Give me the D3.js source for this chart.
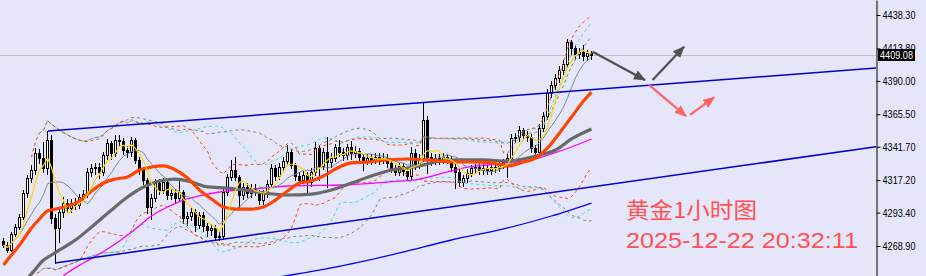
<!DOCTYPE html>
<html><head><meta charset="utf-8">
<script src="https://cdn.jsdelivr.net/npm/d3@7"></script>
<style>
html,body{margin:0;padding:0;background:#E6E6FA;overflow:hidden;}
svg{display:block;}
</style></head><body>
<svg id="chart" width="926" height="276"></svg>
<script>
// ---------------- data ----------------
const firstOpen = 4272.6;
const closes = [
4269.6,4266.0,4277.7,4282.8,4290.2,4307.8,4318.8,4324.6,4337.1,4333.4,
4326.1,4346.6,4289.4,4282.1,4293.8,4300.4,4296.8,4300.4,4299.0,4304.8,
4307.0,4323.2,4326.1,4326.8,4323.2,4335.6,4344.4,4337.1,4346.6,4345.9,
4339.3,4337.8,4346.6,4332.0,4324.6,4317.3,4297.5,4304.1,4315.1,4310.0,
4315.8,4306.3,4307.8,4304.1,4308.5,4289.4,4290.9,4293.8,4284.3,4291.6,
4283.6,4280.6,4282.1,4275.5,4276.2,4308.5,4319.5,4324.6,4319.5,4306.3,
4312.2,4307.8,4311.4,4308.5,4302.6,4307.8,4314.4,4326.1,4320.2,4326.8,
4331.2,4337.8,4328.3,4320.2,4317.3,4321.0,4315.8,4323.2,4340.8,4327.6,
4337.8,4330.5,4333.4,4341.5,4337.8,4335.6,4341.5,4337.1,4338.6,4334.2,
4331.2,4333.4,4332.0,4334.2,4332.0,4333.4,4329.8,4326.1,4323.2,4327.6,
4323.9,4320.2,4337.1,4328.3,4333.4,4361.3,4334.2,4332.0,4333.4,4332.0,
4334.2,4332.7,4326.8,4323.2,4315.8,4318.8,4322.4,4326.1,4326.8,4324.6,
4326.1,4324.6,4326.8,4326.1,4328.3,4330.5,4333.4,4348.1,4348.8,4354.0,
4350.3,4348.8,4340.8,4337.8,4355.4,4364.2,4381.1,4387.0,4392.1,4398.0,
4402.4,4418.5,4414.1,4409.7,4411.2,4408.2,4410.4,4409.08];
const highs = [
4274.7,4271.5,4279.5,4285.0,4292.0,4310.0,4321.0,4328.0,4340.8,4340.0,
4345.2,4353.2,4350.0,4292.0,4296.0,4305.0,4303.0,4303.0,4304.0,4307.0,
4310.0,4326.0,4329.0,4330.0,4330.0,4338.0,4347.0,4346.0,4350.3,4350.0,
4348.0,4342.0,4349.0,4348.0,4334.0,4327.0,4319.0,4307.0,4318.0,4318.0,
4319.0,4318.0,4311.0,4311.0,4317.3,4310.0,4294.0,4297.0,4296.0,4294.0,
4294.0,4286.0,4285.0,4284.0,4279.0,4311.0,4322.0,4331.9,4334.2,4321.0,
4315.0,4315.0,4314.0,4314.0,4310.0,4310.0,4317.0,4329.0,4328.0,4330.0,
4334.0,4343.0,4340.0,4330.0,4323.0,4324.0,4323.0,4326.0,4345.2,4343.0,
4341.0,4348.8,4337.0,4344.0,4346.6,4341.0,4344.0,4346.0,4342.0,4341.0,
4336.0,4336.0,4336.0,4337.0,4337.0,4337.1,4336.0,4332.0,4328.0,4330.0,
4330.0,4326.0,4341.5,4340.0,4336.0,4374.5,4364.0,4337.0,4336.0,4336.0,
4337.0,4336.0,4335.0,4329.0,4325.0,4321.0,4325.0,4328.0,4329.0,4329.0,
4329.0,4328.0,4329.0,4329.0,4331.0,4333.0,4336.0,4351.0,4352.0,4357.0,
4355.4,4353.0,4351.0,4343.0,4358.0,4367.0,4384.0,4390.0,4395.0,4401.0,
4405.0,4421.0,4420.0,4416.0,4414.0,4416.3,4413.0,4412.0];
const lows = [
4268.2,4264.5,4265.0,4276.0,4281.0,4289.0,4305.0,4316.0,4322.0,4330.0,
4323.0,4322.0,4286.0,4256.4,4271.8,4290.0,4293.0,4294.0,4296.0,4297.0,
4302.0,4305.0,4320.0,4322.0,4319.0,4321.0,4333.0,4333.0,4335.0,4342.0,
4336.0,4334.0,4335.0,4330.0,4322.0,4314.0,4293.0,4289.0,4302.0,4307.0,
4308.0,4303.0,4303.0,4301.0,4302.0,4286.0,4284.0,4288.0,4280.0,4282.0,
4280.0,4276.0,4277.0,4273.0,4273.3,4274.0,4306.0,4317.0,4317.0,4297.5,
4303.0,4305.0,4305.0,4306.0,4300.0,4300.0,4305.0,4312.0,4317.0,4318.0,
4324.0,4329.0,4326.0,4317.0,4314.0,4315.0,4307.8,4313.0,4321.0,4317.3,
4325.0,4312.2,4327.0,4331.0,4335.0,4332.0,4333.0,4333.0,4334.0,4331.0,
4324.6,4329.0,4329.0,4330.0,4329.0,4330.0,4327.0,4323.0,4321.0,4321.0,
4321.0,4318.0,4318.0,4325.0,4326.0,4331.0,4322.4,4328.0,4329.0,4329.0,
4330.0,4330.0,4324.0,4311.4,4313.0,4313.0,4316.0,4320.0,4323.0,4322.0,
4322.0,4322.0,4322.0,4323.0,4324.0,4326.0,4319.5,4331.0,4345.0,4346.0,
4347.0,4346.0,4338.0,4334.0,4336.0,4353.0,4362.0,4378.0,4384.0,4389.0,
4395.0,4400.0,4410.0,4406.0,4407.0,4405.3,4405.0,4406.0];

// moving averages: [bar index, price]
const maOrange = [[0,4255.0],[2,4262.3],[4,4269.6],[7,4282.1],[9,4288.7],[11,4294.6],[13,4296.0],[16,4298.2],[19,4301.9],[22,4309.2],[25,4315.1],[28,4318.0],[31,4319.5],[34,4324.6],[37,4326.8],[40,4327.6],[43,4324.6],[46,4318.8],[49,4310.0],[52,4303.4],[55,4297.5],[58,4296.0],[62,4296.0],[65,4297.5],[68,4302.6],[71,4309.2],[74,4315.1],[77,4316.6],[80,4320.2],[83,4325.4],[87,4329.8],[91,4330.5],[96,4332.0],[101,4332.7],[106,4332.0],[112,4330.5],[117,4330.5],[122,4329.8],[126,4327.6],[130,4330.5],[133,4333.4],[136,4340.8],[139,4351.8],[142,4363.5],[145,4375.2],[147,4381.8]];
const maGray = [[5,4242.5],[7,4248.4],[10,4258.6],[12,4262.3],[14,4266.0],[18,4273.3],[22,4282.8],[27,4295.3],[31,4304.8],[35,4312.2],[39,4316.6],[43,4318.0],[47,4315.8],[51,4312.2],[56,4311.4],[60,4310.0],[65,4307.8],[71,4306.3],[77,4307.0],[82,4310.0],[87,4315.1],[92,4320.2],[97,4324.6],[101,4326.1],[105,4328.3],[109,4331.2],[114,4332.0],[120,4332.0],[126,4331.2],[131,4333.4],[134,4335.6],[138,4339.3],[142,4347.4],[147,4354.7]];
const maMagenta = [[14,4244.0],[15,4246.9],[20,4256.4],[24,4263.0],[29,4272.6],[33,4281.4],[37,4290.9],[41,4297.5],[45,4302.6],[49,4305.6],[54,4308.5],[59,4310.0],[65,4311.4],[71,4312.9],[79,4313.3],[87,4314.0],[96,4315.8],[104,4318.0],[111,4323.2],[116,4326.8],[121,4328.3],[126,4329.8],[132,4332.0],[137,4336.4],[142,4341.5],[147,4347.4]];
const maBlue = [[69,4246.2],[82,4252.8],[99,4263.8],[112,4273.3],[125,4281.4],[137,4290.9],[147,4300.4]];

// trend channel anchors: [bar index, price]
const channelUpper = [[11.25,4353.2],[218.25,4399.4]];
const channelLower = [[13,4256.4],[218.25,4341.7]];

// scenario arrows: [[bar,price],[bar,price]]
const grayArrows = [[[147.4,4411.4],[160.5,4390.6]],[[162.4,4390.6],[170.25,4415.1]]];
const redArrows  = [[[161.5,4387.0],[170.75,4364.2]],[[171.75,4365.0],[177.8,4377.9]]];

const tickValues = [4438.30,4413.80,4390.00,4365.50,4341.70,4317.20,4293.40,4268.90];
const lastPrice = 4409.08;
const titleText = "黄金1小时图";
const stampText = "2025-12-22 20:32:11";

// ---------------- drawing ----------------
const W = 926, H = 276, plotRight = 876;
const opens = closes.map((c,i)=> i===0 ? firstOpen : closes[i-1]);
const x = d3.scaleLinear().domain([0,147]).range([3,591]);
const y = d3.scaleLinear().domain([4246.9,4449.3]).range([276,0]);

const svg = d3.select('#chart');
svg.append('rect').attr('width',W).attr('height',H).attr('fill','#E6E6FA');
const defs = svg.append('defs');
defs.append('clipPath').attr('id','plot').append('rect')
  .attr('x',0).attr('y',0).attr('width',plotRight).attr('height',H);
function marker(id,color){
  defs.append('marker').attr('id',id).attr('viewBox','0 0 12 10')
    .attr('refX',11).attr('refY',5).attr('markerWidth',12).attr('markerHeight',10)
    .attr('markerUnits','userSpaceOnUse').attr('orient','auto')
    .append('path').attr('d','M0,0 L12,5 L0,10 Z').attr('fill',color);
}
marker('ahGray','#505050');
marker('ahRed','#FF6464');

const g = svg.append('g').attr('clip-path','url(#plot)');

// current price line
g.append('line').attr('x1',0).attr('x2',plotRight)
  .attr('y1',Math.round(y(lastPrice))+0.5).attr('y2',Math.round(y(lastPrice))+0.5)
  .attr('stroke','#C0C0C0').attr('stroke-width',1);

// candles
const bars = closes.map((c,i)=>({i,o:opens[i],h:highs[i],l:lows[i],c}));
const cg = g.append('g');
cg.selectAll('line.wick').data(bars).join('line').attr('class','wick')
  .attr('x1',d=>Math.round(x(d.i))+0.5).attr('x2',d=>Math.round(x(d.i))+0.5)
  .attr('y1',d=>Math.round(y(d.h))).attr('y2',d=>Math.round(y(d.l))+1)
  .attr('stroke','#000').attr('stroke-width',1);
cg.selectAll('rect.body').data(bars).join('rect').attr('class','body')
  .each(function(d){
    const X = Math.round(x(d.i));
    const yo = Math.round(y(d.o)), yc = Math.round(y(d.c));
    const s = d3.select(this);
    if (d.c >= d.o) {
      s.attr('x',X-0.5).attr('width',2)
       .attr('y',yc+0.5).attr('height',Math.max(0,yo-yc))
       .attr('fill','#FFFFFF').attr('stroke','#000').attr('stroke-width',1);
    } else {
      s.attr('x',X-1).attr('width',3)
       .attr('y',yo).attr('height',Math.max(1,yc-yo+1))
       .attr('fill','#000');
    }
  });

// Bollinger-type bands computed from closes
function band(N,k,minN){
  return closes.map((_,i)=>{
    const s = Math.max(0,i-N+1);
    if (i-s+1 < minN) return null;
    const w = closes.slice(s,i+1);
    const m = d3.mean(w);
    const sd = Math.sqrt(d3.mean(w,v=>(v-m)*(v-m)));
    return {i, up:m+k*sd, lo:m-k*sd};
  });
}
function sma(N){
  return closes.map((_,i)=>{
    const s = Math.max(0,i-N+1);
    return {i, v:d3.mean(closes.slice(s,i+1))};
  });
}
const lineBand = key => d3.line().defined(d=>d!==null)
  .x(d=>x(d.i)+0.5).y(d=>y(d[key]));
const bandSpecs = [
  {N:40,k:2,min:12,color:'#808080'},
  {N:30,k:2,min:10,color:'#40D8D0'},
  {N:20,k:2,min:8,color:'#FF4500'}
];
bandSpecs.forEach(b=>{
  const data = band(b.N,b.k,b.min);
  ['up','lo'].forEach(key=>{
    g.append('path').datum(data).attr('d',lineBand(key))
      .attr('fill','none').attr('stroke',b.color).attr('stroke-width',1)
      .attr('stroke-dasharray','3,3');
  });
});

// read moving averages
const readLine = d3.line().x(d=>x(d[0])+0.5).y(d=>y(d[1])).curve(d3.curveMonotoneX);
g.append('path').datum(maBlue).attr('d',readLine)
  .attr('fill','none').attr('stroke','#0000FF').attr('stroke-width',1.3);
g.append('path').datum(maMagenta).attr('d',readLine)
  .attr('fill','none').attr('stroke','#FF00FF').attr('stroke-width',1.3);
g.append('path').datum(maGray).attr('d',readLine)
  .attr('fill','none').attr('stroke','#696969').attr('stroke-width',3.2);

// short MAs computed from closes
const smaLine = d3.line().x(d=>x(d.i)+0.5).y(d=>y(d.v));
g.append('path').datum(sma(10)).attr('d',smaLine)
  .attr('fill','none').attr('stroke','#7A8A9A').attr('stroke-width',1);

g.append('path').datum(maOrange).attr('d',readLine)
  .attr('fill','none').attr('stroke','#FF4500').attr('stroke-width',3.2);

g.append('path').datum(sma(5)).attr('d',smaLine)
  .attr('fill','none').attr('stroke','#FFD700').attr('stroke-width',1.2);

// channel lines
[channelUpper, channelLower].forEach(c=>{
  g.append('line')
    .attr('x1',x(c[0][0])).attr('y1',y(c[0][1]))
    .attr('x2',x(c[1][0])).attr('y2',y(c[1][1]))
    .attr('stroke','#0000CD').attr('stroke-width',1.5);
});

// arrows
grayArrows.forEach(a=>{
  g.append('line').attr('x1',x(a[0][0])).attr('y1',y(a[0][1]))
    .attr('x2',x(a[1][0])).attr('y2',y(a[1][1]))
    .attr('stroke','#505050').attr('stroke-width',2.2).attr('marker-end','url(#ahGray)');
});
redArrows.forEach(a=>{
  g.append('line').attr('x1',x(a[0][0])).attr('y1',y(a[0][1]))
    .attr('x2',x(a[1][0])).attr('y2',y(a[1][1]))
    .attr('stroke','#FF6464').attr('stroke-width',2.2).attr('marker-end','url(#ahRed)');
});

// texts
svg.append('text').attr('x',626).attr('y',218).text(titleText)
  .attr('font-family','"Noto Sans CJK SC", sans-serif').attr('font-size',22)
  .attr('fill','#FF5252').attr('textLength',131).attr('lengthAdjust','spacingAndGlyphs');
svg.append('text').attr('x',626).attr('y',248).text(stampText)
  .attr('font-family','"Liberation Sans", Arial, sans-serif').attr('font-size',22.3)
  .attr('fill','#FF5252').attr('textLength',232).attr('lengthAdjust','spacingAndGlyphs');

// price axis
const labelFont = '"Liberation Sans",Arial,sans-serif';
const axis = d3.axisRight(y).tickValues(tickValues).tickSize(4).tickSizeOuter(0)
  .tickPadding(2).tickFormat(d3.format('.2f'));
const ag = svg.append('g').attr('transform',`translate(${plotRight+0.5},0)`).call(axis);
ag.select('.domain').attr('stroke','#000');
ag.selectAll('line').attr('stroke','#000');
ag.selectAll('text').attr('font-family',labelFont)
  .attr('font-size',11).attr('fill','#000')
  .attr('textLength',33).attr('lengthAdjust','spacingAndGlyphs');

// last price label
const lp = svg.append('g').attr('transform',`translate(${plotRight+2},${Math.round(y(lastPrice))})`);
const lpRect = lp.append('rect').attr('fill','#000');
lp.append('text').attr('x',2).attr('y',0).attr('dy','0.36em').text(d3.format('.2f')(lastPrice))
  .attr('font-family',labelFont).attr('font-size',11).attr('fill','#FFF')
  .attr('textLength',33).attr('lengthAdjust','spacingAndGlyphs');
lpRect.attr('x',0).attr('y',-6).attr('width',37).attr('height',12);
</script>
</body></html>
